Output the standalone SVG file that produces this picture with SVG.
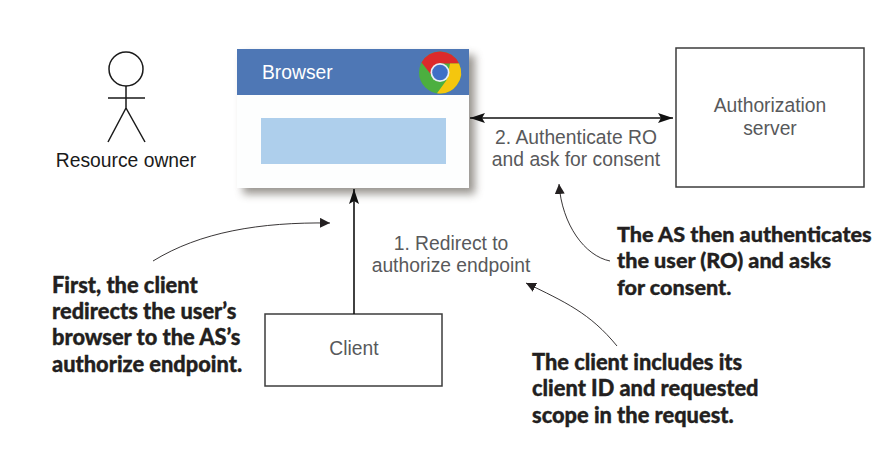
<svg xmlns="http://www.w3.org/2000/svg" width="895" height="452" viewBox="0 0 895 452">
<style>
.box{fill:#fff;stroke:#3c3c3c;stroke-width:1.5}
.lbl{font-family:"Liberation Sans",Arial,sans-serif;font-size:19.3px;fill:#58595b}
.note{font-family:Lato,"Liberation Sans",sans-serif;font-weight:900;font-size:21.8px;fill:#231f20;stroke:#231f20;stroke-width:.35}
.conn{fill:none;stroke:#111;stroke-width:1.6}
.call{fill:none;stroke:#231f20;stroke-width:.9}
</style>
<defs>
<marker id="big" markerUnits="userSpaceOnUse" markerWidth="16" markerHeight="12" refX="15" refY="6" orient="auto-start-reverse"><path d="M0 1L15 6L0 11L3 6Z" fill="#111"/></marker>
<marker id="small" markerUnits="userSpaceOnUse" markerWidth="12" markerHeight="12" refX="10" refY="5" orient="auto"><path d="M0 0L10 5L0 10Z" fill="#231f20"/></marker>
<filter id="sh" x="-10%" y="-10%" width="125%" height="125%"><feGaussianBlur stdDeviation="4"/></filter>
</defs>
<rect width="895" height="452" fill="#fff"/>
<g id="resource-owner" fill="none" stroke="#1a1a1a" stroke-width="1.5">
<circle cx="126" cy="69" r="17"/>
<path d="M126 86V108M108 98H145M126 108L108 142M126 108L145 142"/>
<text x="126" y="167" text-anchor="middle" stroke="none" style="font-family:'Liberation Sans',Arial,sans-serif;font-size:19.3px;fill:#1a1a1a">Resource owner</text>
</g>
<g id="browser">
<rect x="243" y="55" width="232" height="139" fill="#77726c" opacity=".75" filter="url(#sh)"/>
<rect x="237" y="49" width="232" height="139" fill="#fdfefe"/>
<rect x="237" y="49" width="232" height="46" fill="#4e77b5"/>
<rect x="261" y="118" width="185" height="46" fill="#aecfec"/>
<text x="262" y="79" style="font-family:'Liberation Sans',Arial,sans-serif;font-size:19.3px;fill:#fff">Browser</text>
<g id="chrome-icon">
<circle cx="440" cy="72.5" r="21" fill="#4caf3f"/>
<path d="M421.5 62.5A21 21 0 0 1 459 63.5L440 63.5L431 74.5Z" fill="#dc2a2c"/>
<path d="M459 63.5A21 21 0 0 1 437 93.3L447 79.5L450 63.5Z" fill="#f5c60e"/>
<circle cx="440" cy="72.5" r="9.5" fill="#e9eef5"/>
<circle cx="440" cy="72.5" r="7.8" fill="#3f6fc6"/>
</g>
</g>
<g id="authorization-server">
<rect class="box" x="676" y="48" width="188" height="139"/>
<text class="lbl" x="770" y="112" text-anchor="middle">Authorization</text>
<text class="lbl" x="770" y="135" text-anchor="middle">server</text>
</g>
<g id="client">
<rect class="box" x="265" y="314" width="177" height="72"/>
<text class="lbl" x="354" y="355" text-anchor="middle">Client</text>
</g>
<g id="connectors">
<path class="conn" d="M354 314V189" marker-end="url(#big)"/>
<path class="conn" d="M470 118H673" marker-start="url(#big)" marker-end="url(#big)"/>
<path class="call" d="M153 261C200 232 260 222 330 223" marker-end="url(#small)"/>
<path class="call" d="M610 261C585 256 562 225 559 184" marker-end="url(#small)"/>
<path class="call" d="M617 346C590 313 565 302 526 283" marker-end="url(#small)"/>
</g>
<g id="labels">
<text class="lbl" x="451" y="250" text-anchor="middle">1. Redirect to</text>
<text class="lbl" x="451" y="272" text-anchor="middle">authorize endpoint</text>
<text class="lbl" x="576" y="144" text-anchor="middle">2. Authenticate RO</text>
<text class="lbl" x="576" y="166" text-anchor="middle">and ask for consent</text>
</g>
<g id="notes">
<text class="note" x="52" y="293">First, the client</text>
<text class="note" x="52" y="319">redirects the user’s</text>
<text class="note" x="52" y="345">browser to the AS’s</text>
<text class="note" x="52" y="372">authorize endpoint.</text>
<text class="note" x="617" y="242" style="font-size:21.6px">The AS then authenticates</text>
<text class="note" x="617" y="268" style="font-size:21.6px">the user (RO) and asks</text>
<text class="note" x="617" y="295" style="font-size:21.6px">for consent.</text>
<text class="note" x="532" y="370">The client includes its</text>
<text class="note" x="532" y="396">client ID and requested</text>
<text class="note" x="532" y="423">scope in the request.</text>
</g>
</svg>
